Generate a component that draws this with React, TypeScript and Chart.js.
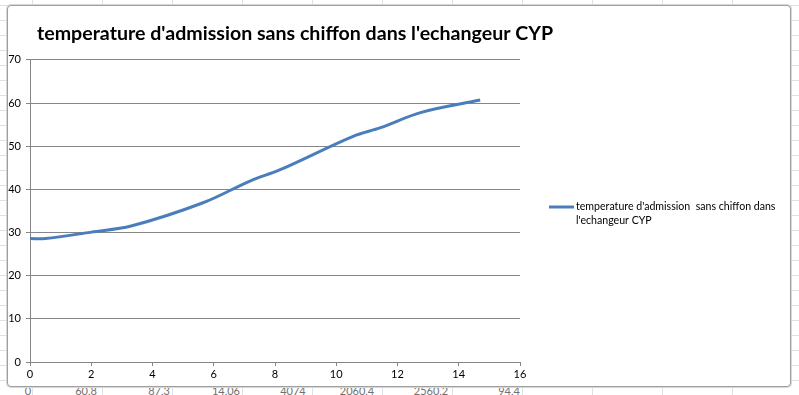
import React, { useEffect, useRef } from "react";
import { Chart, registerables } from "chart.js";

Chart.register(...registerables);

const TITLE = "temperature d'admission sans chiffon dans l'echangeur CYP";
const SERIES_LABEL = "temperature d'admission sans chiffon dans l'echangeur CYP";
const LEGEND_LINES = ["temperature d'admission  sans chiffon dans", "l'echangeur CYP"];

const xValues = [0, 0.5, 2, 3.3, 5.65, 7.2, 8.15, 10.55, 11.45, 12.75, 14.7];
const yValues = [28.6, 28.6, 30.1, 31.5, 36.9, 42.0, 44.5, 52.3, 54.3, 57.8, 60.7];

const xTicks = { min: 0, max: 16, step: 2 };
const yTicks = { min: 0, max: 70, step: 10 };

const sheetCells = ["0", "60,8", "87,3", "14,06", "4074", "2060,4", "2560,2", "94,4"];
const sheetCellCenters = [28, 86, 159, 226, 293, 357, 431, 509];

const FONT = "Lato, 'Open Sans', sans-serif";
const LINE_COLOR = "#4a7ebb";
const GRID = "#868686";

export default function App() {
  const ref = useRef<HTMLCanvasElement | null>(null);

  useEffect(() => {
    if (!ref.current) return;
    const legendPlugin = {
      id: "customLegend",
      afterLayout(chart: any) {
        if (chart.titleBlock) {
          chart.titleBlock.left = 37;
          chart.titleBlock.right = 790;
          chart.titleBlock.width = 753;
        }
      },
      afterDraw(chart: any) {
        const ctx = chart.ctx;
        ctx.save();
        ctx.strokeStyle = LINE_COLOR;
        ctx.lineWidth = 3;
        ctx.beginPath();
        ctx.moveTo(549, 207);
        ctx.lineTo(574, 207);
        ctx.stroke();
        ctx.fillStyle = "#000";
        ctx.font = `10.6px ${FONT}`;
        ctx.textBaseline = "middle";
        ctx.textAlign = "left";
        LEGEND_LINES.forEach((l, i) => ctx.fillText(l, 576, 207 + i * 14));
        ctx.restore();
      },
    };

    const chart = new Chart(ref.current, {
      type: "scatter",
      data: {
        datasets: [
          {
            label: SERIES_LABEL,
            data: xValues.map((x, i) => ({ x, y: yValues[i] })),
            showLine: true,
            borderColor: LINE_COLOR,
            backgroundColor: LINE_COLOR,
            borderWidth: 3,
            pointRadius: 0,
            tension: 0.35,
            cubicInterpolationMode: "default",
          },
        ],
      },
      options: {
        animation: false,
        responsive: false,
        layout: { padding: { left: 8, top: 6, right: 279, bottom: 9 } },
        plugins: {
          legend: { display: false },
          tooltip: { enabled: false },
          title: {
            display: true,
            text: TITLE,
            align: "start",
            color: "#000",
            font: { family: FONT, size: 19.6, weight: "bold", lineHeight: 1.17 },
            padding: { top: 16, bottom: 15 },
          },
        },
        scales: {
          x: {
            type: "linear",
            min: xTicks.min,
            max: xTicks.max,
            afterFit: (s: any) => {
              s.height = 24;
            },
            ticks: {
              stepSize: xTicks.step,
              color: "#000",
              font: { family: FONT, size: 11 },
              padding: 2,
              maxRotation: 0,
            },
            grid: { drawOnChartArea: false, drawTicks: true, tickLength: 4, color: GRID },
            border: { color: GRID, width: 1 },
          },
          y: {
            type: "linear",
            min: yTicks.min,
            max: yTicks.max,
            afterFit: (s: any) => {
              s.width = 22;
            },
            ticks: {
              stepSize: yTicks.step,
              color: "#000",
              font: { family: FONT, size: 11 },
              padding: 5,
            },
            grid: { color: GRID, tickLength: 4, lineWidth: 1 },
            border: { color: GRID, width: 1 },
          },
        },
      },
      plugins: [legendPlugin],
    } as any);
    return () => chart.destroy();
  }, []);

  return (
    <div
      style={{
        position: "fixed",
        left: 0,
        top: 0,
        width: 799,
        height: 395,
        overflow: "hidden",
        background: "#fff",
        backgroundImage:
          "repeating-linear-gradient(90deg, transparent 0 32px, #dde1e6 32px 33px, transparent 33px 70px), repeating-linear-gradient(0deg, transparent 0 14px, #dde1e6 14px 15px)",
        fontFamily: FONT,
      }}
    >
      {sheetCells.map((t, i) => (
        <span
          key={i}
          style={{
            position: "absolute",
            top: 384,
            left: sheetCellCenters[i],
            transform: "translateX(-50%)",
            fontSize: 11,
            color: "#707070",
            lineHeight: "14px",
            whiteSpace: "nowrap",
          }}
        >
          {t}
        </span>
      ))}
      <div
        style={{
          position: "absolute",
          left: 7,
          top: 5,
          width: 782,
          height: 380,
          border: "1px solid #a0a0a0",
          borderRadius: 4,
          background: "#fff",
          boxShadow: "0 0 0 1px #d8d8d8",
        }}
      />
      <canvas
        ref={ref}
        width={799}
        height={395}
        style={{ position: "absolute", left: 0, top: 0, display: "block" }}
      />
    </div>
  );
}
